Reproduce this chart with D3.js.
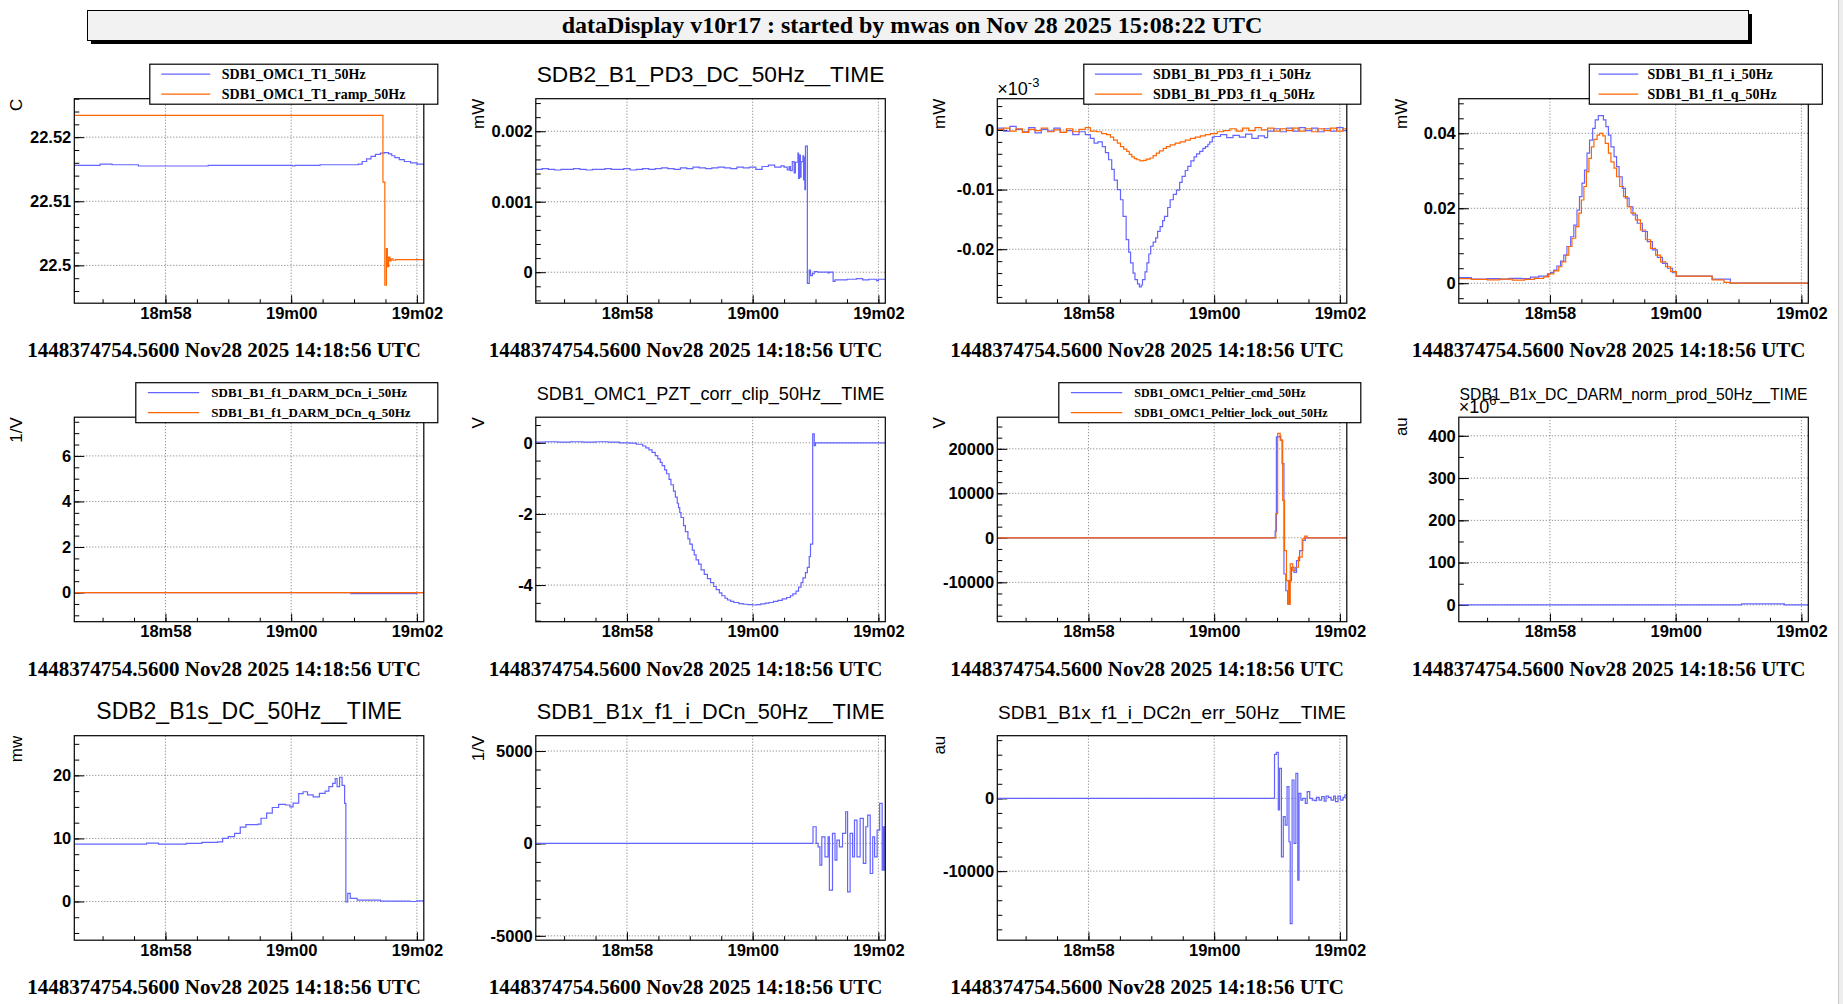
<!DOCTYPE html>
<html>
<head>
<meta charset="utf-8">
<script src="https://cdn.jsdelivr.net/npm/d3@7"></script>
<style>
  body { margin: 0; background: #fff; }
  svg { display: block; }
</style>
</head>
<body>
<svg id="canvas"></svg>
<script>
// ---- shared time axis (seconds after 14:18:00 display time) ----
const xDomain = [56.55, 62.11];
const xTickValues = [58, 60, 62];
const xTickLabels = ["18m58", "19m00", "19m02"];

const headerText = "dataDisplay v10r17 : started by mwas on Nov 28 2025 15:08:22 UTC";
const footerText = "1448374754.5600 Nov28 2025 14:18:56 UTC";

// ---- per panel text ----
const panelTitles = [
  "", "SDB2_B1_PD3_DC_50Hz__TIME", "", "",
  "", "SDB1_OMC1_PZT_corr_clip_50Hz__TIME", "", "SDB1_B1x_DC_DARM_norm_prod_50Hz__TIME",
  "SDB2_B1s_DC_50Hz__TIME", "SDB1_B1x_f1_i_DCn_50Hz__TIME", "SDB1_B1x_f1_i_DC2n_err_50Hz__TIME"
];
const panelUnits = ["C", "mW", "mW", "mW", "1/V", "V", "V", "au", "mw", "1/V", "au"];
const panelLegends = [
  ["SDB1_OMC1_T1_50Hz", "SDB1_OMC1_T1_ramp_50Hz"], null,
  ["SDB1_B1_PD3_f1_i_50Hz", "SDB1_B1_PD3_f1_q_50Hz"],
  ["SDB1_B1_f1_i_50Hz", "SDB1_B1_f1_q_50Hz"],
  ["SDB1_B1_f1_DARM_DCn_i_50Hz", "SDB1_B1_f1_DARM_DCn_q_50Hz"], null,
  ["SDB1_OMC1_Peltier_cmd_50Hz", "SDB1_OMC1_Peltier_lock_out_50Hz"], null,
  null, null, null
];
const yExponents = [null, null, "-3", null, null, null, null, "6", null, null, null];

// ---- y axes ----
const yDomains = [
  [22.4941, 22.526], [-0.00044, 0.002462], [-0.02905, 0.00524], [-0.00533, 0.04923],
  [-1.28, 7.70], [-5.03, 0.72], [-18850, 27100], [-39.8, 444],
  [-6.14, 26.29], [-5235, 5830], [-19490, 8610]
];
const yTicks = [
  [22.5, 22.51, 22.52], [0, 0.001, 0.002], [-0.02, -0.01, 0], [0, 0.02, 0.04],
  [0, 2, 4, 6], [-4, -2, 0], [-10000, 0, 10000, 20000], [0, 100, 200, 300, 400],
  [0, 10, 20], [-5000, 0, 5000], [-10000, 0]
];
const yMinorSteps = [0.002, 0.0002, 0.002, 0.004, 0.5, 0.5, 2500, 50, 2.5, 1000, 2000];

// ---- series: [seconds, value] ----
const omcT1 = [[56.55,22.5156],[56.96,22.5158],[57.15,22.5157],[57.57,22.5155],[58.68,22.5156],[60.02,22.5155],[60.06,22.5156],[60.46,22.5157],[61.07,22.5158],[61.13,22.5162],[61.2,22.5166],[61.27,22.5170],[61.34,22.5173],[61.42,22.5175],[61.48,22.5176],[61.55,22.5174],[61.6,22.5171],[61.65,22.5168],[61.72,22.5165],[61.8,22.5162],[61.9,22.5160],[62.0,22.5158],[62.11,22.5157]];
const omcT1Ramp = [[56.55,22.5234],[61.46,22.5130],[61.49,22.4969],[61.515,22.5026],[61.53,22.4998],[61.55,22.5013],[61.57,22.5007],[61.59,22.5010],[61.62,22.5008],[61.66,22.5009],[62.11,22.5009]];

const pd3Dc = [[56.55,0.00146],[56.65,0.00147],[56.75,0.00146],[56.85,0.00145],[56.95,0.00146],[57.05,0.00146],[57.15,0.00147],[57.25,0.00146],[57.35,0.00145],[57.45,0.00146],[57.55,0.00146],[57.65,0.00147],[57.75,0.00146],[57.85,0.00146],[57.95,0.00147],[58.05,0.00145],[58.15,0.00146],[58.25,0.00147],[58.35,0.00146],[58.45,0.00147],[58.55,0.00148],[58.65,0.00147],[58.75,0.00146],[58.85,0.00148],[58.95,0.00147],[59.05,0.00149],[59.15,0.00148],[59.25,0.00147],[59.35,0.00148],[59.45,0.00149],[59.55,0.00148],[59.65,0.00147],[59.75,0.00149],[59.85,0.00148],[59.95,0.00149],[60.05,0.00146],[60.15,0.00150],[60.25,0.00152],[60.35,0.00149],[60.45,0.00151],[60.5,0.00149],[60.55,0.00145],[60.58,0.00150],[60.6,0.00144],[60.63,0.00157],[60.66,0.00141],[60.68,0.00156],[60.72,0.00169],[60.73,0.00133],[60.745,0.00166],[60.76,0.00135],[60.77,0.00157],[60.8,0.00165],[60.81,0.00131],[60.82,0.00163],[60.83,0.00117],[60.84,0.00179],[60.87,-0.00016],[60.9,0.00003],[60.92,-0.00005],[60.95,-0.00002],[60.98,0.00001],[61.03,0.0],[61.2,-0.00001],[61.22,0.0],[61.28,-0.00013],[61.31,-0.00011],[61.5,-0.00010],[61.65,-0.00009],[61.75,-0.00011],[61.85,-0.00010],[61.97,-0.00012],[62.0,-0.00010],[62.11,-0.00010]];

const pd3F1I = [[56.55,0.0003],[56.65,-0.0002],[56.75,0.0006],[56.85,0.0001],[56.95,-0.0003],[57.05,0.0004],[57.15,-0.0005],[57.25,0.0001],[57.35,-0.0002],[57.45,0.0003],[57.55,-0.0004],[57.65,-0.0001],[57.75,-0.0008],[57.85,-0.0003],[57.95,-0.0008],[58.03,-0.0014],[58.09,-0.0022],[58.15,-0.0020],[58.22,-0.0028],[58.27,-0.0038],[58.32,-0.005],[58.37,-0.0066],[58.41,-0.0084],[58.46,-0.0100],[58.51,-0.0117],[58.55,-0.0145],[58.6,-0.0184],[58.64,-0.0205],[58.67,-0.0223],[58.71,-0.0240],[58.74,-0.0251],[58.78,-0.0258],[58.81,-0.0263],[58.84,-0.0260],[58.86,-0.0251],[58.9,-0.0238],[58.93,-0.0223],[58.96,-0.0208],[58.99,-0.0195],[59.03,-0.0188],[59.07,-0.0181],[59.1,-0.0170],[59.14,-0.0162],[59.18,-0.0152],[59.21,-0.0145],[59.26,-0.0130],[59.3,-0.0117],[59.35,-0.0108],[59.4,-0.0101],[59.45,-0.0088],[59.49,-0.0078],[59.54,-0.0068],[59.58,-0.0061],[59.63,-0.0052],[59.68,-0.0045],[59.72,-0.0040],[59.77,-0.0036],[59.82,-0.0031],[59.86,-0.0028],[59.9,-0.0024],[59.93,-0.0020],[59.97,-0.0012],[60.0,-0.0011],[60.1,-0.0008],[60.2,-0.0013],[60.3,-0.0009],[60.4,-0.0012],[60.5,-0.0007],[60.6,-0.0014],[60.7,-0.0010],[60.8,-0.0013],[60.85,-0.0002],[60.95,0.0002],[61.05,-0.0003],[61.15,0.0003],[61.25,-0.0002],[61.35,0.0004],[61.45,-0.0001],[61.55,0.0003],[61.65,-0.0003],[61.75,0.0002],[61.85,-0.0002],[61.95,0.0004],[62.05,-0.0001],[62.11,0.0001]];
const pd3F1Q = [[56.55,0.0001],[56.65,0.0003],[56.75,-0.0002],[56.85,0.0002],[56.95,-0.0004],[57.05,0.0001],[57.15,-0.0001],[57.25,0.0003],[57.35,-0.0003],[57.45,0.0000],[57.55,-0.0004],[57.65,0.0002],[57.75,-0.0003],[57.85,0.0001],[57.95,0.0004],[58.03,-0.0002],[58.13,-0.0003],[58.21,-0.0006],[58.29,-0.0008],[58.35,-0.0012],[58.4,-0.0017],[58.46,-0.0022],[58.51,-0.0028],[58.56,-0.0032],[58.61,-0.0036],[58.65,-0.0041],[58.69,-0.0045],[58.73,-0.0048],[58.77,-0.0050],[58.82,-0.0052],[58.87,-0.0051],[58.92,-0.0049],[58.98,-0.0047],[59.03,-0.0043],[59.08,-0.0039],[59.13,-0.0035],[59.19,-0.0031],[59.24,-0.0028],[59.3,-0.0025],[59.38,-0.0022],[59.46,-0.0020],[59.54,-0.0017],[59.62,-0.0014],[59.7,-0.0012],[59.78,-0.0010],[59.86,-0.0008],[59.94,-0.0006],[60.05,-0.0003],[60.15,-0.0001],[60.25,0.0002],[60.35,-0.0002],[60.45,0.0003],[60.55,-0.0001],[60.65,0.0004],[60.75,0.0000],[60.85,0.0003],[60.95,-0.0002],[61.05,0.0002],[61.15,-0.0001],[61.25,0.0003],[61.35,-0.0002],[61.45,0.0002],[61.55,-0.0003],[61.65,0.0002],[61.75,-0.0001],[61.85,0.0003],[61.95,-0.0002],[62.05,0.0002],[62.11,0.0000]];

const b1F1I = [[56.55,0.0015],[56.75,0.0011],[57.0,0.0012],[57.2,0.0011],[57.35,0.0013],[57.55,0.0012],[57.69,0.0016],[57.82,0.0019],[57.96,0.0025],[58.01,0.0029],[58.06,0.0035],[58.11,0.0046],[58.17,0.0059],[58.22,0.0075],[58.27,0.0098],[58.33,0.0124],[58.38,0.0155],[58.43,0.0195],[58.47,0.0231],[58.51,0.0267],[58.55,0.0302],[58.59,0.0347],[58.63,0.0382],[58.68,0.0413],[58.72,0.0436],[58.77,0.0447],[58.82,0.0447],[58.85,0.0436],[58.89,0.0418],[58.93,0.0395],[58.97,0.0364],[59.02,0.0338],[59.06,0.0311],[59.1,0.0284],[59.15,0.0253],[59.2,0.0227],[59.26,0.0204],[59.32,0.0182],[59.39,0.0160],[59.47,0.0138],[59.55,0.0111],[59.63,0.0089],[59.71,0.0069],[59.79,0.0053],[59.87,0.0040],[59.95,0.0028],[60.01,0.0019],[60.58,0.0011],[60.87,0.0],[62.11,0.0]];
const b1F1Q = [[56.55,0.0012],[56.75,0.0010],[57.0,0.0009],[57.2,0.0011],[57.4,0.0008],[57.6,0.0010],[57.75,0.0013],[57.9,0.0017],[57.98,0.0025],[58.06,0.0033],[58.14,0.0044],[58.19,0.0057],[58.25,0.0075],[58.3,0.0098],[58.35,0.0120],[58.41,0.0151],[58.46,0.0187],[58.5,0.0222],[58.54,0.0258],[58.58,0.0298],[58.62,0.0333],[58.66,0.0364],[58.7,0.0384],[58.75,0.0395],[58.79,0.0400],[58.84,0.0393],[58.88,0.0373],[58.93,0.0347],[58.97,0.0324],[59.02,0.0307],[59.06,0.0284],[59.11,0.0258],[59.17,0.0231],[59.23,0.0204],[59.29,0.0187],[59.36,0.0169],[59.44,0.0142],[59.52,0.0116],[59.6,0.0093],[59.68,0.0075],[59.76,0.0057],[59.84,0.0044],[59.92,0.0031],[60.01,0.0019],[60.58,0.0009],[60.77,0.0002],[60.87,0.0],[62.11,0.0]];

const darmDcnI = [[56.55,0],[60.95,-0.05],[62.0,0],[62.11,0]];
const darmDcnQ = [[56.55,0],[62.11,0]];

const pztCorr = [[56.55,0.02],[56.7,0.03],[56.9,0.02],[57.1,0.03],[57.3,0.02],[57.5,0.03],[57.7,0.02],[57.88,0.0],[58.05,-0.01],[58.15,-0.04],[58.25,-0.09],[58.3,-0.14],[58.35,-0.2],[58.4,-0.27],[58.45,-0.36],[58.49,-0.45],[58.53,-0.55],[58.56,-0.64],[58.6,-0.76],[58.63,-0.87],[58.67,-1.03],[58.7,-1.18],[58.74,-1.36],[58.77,-1.53],[58.8,-1.7],[58.82,-1.82],[58.84,-1.96],[58.86,-2.1],[58.9,-2.33],[58.93,-2.5],[58.97,-2.7],[59.0,-2.85],[59.04,-3.02],[59.07,-3.15],[59.1,-3.29],[59.14,-3.41],[59.18,-3.57],[59.23,-3.7],[59.28,-3.82],[59.33,-3.93],[59.38,-4.04],[59.42,-4.13],[59.47,-4.22],[59.51,-4.3],[59.56,-4.37],[59.6,-4.42],[59.65,-4.46],[59.7,-4.49],[59.78,-4.52],[59.85,-4.54],[59.92,-4.55],[60.0,-4.56],[60.06,-4.55],[60.13,-4.53],[60.2,-4.51],[60.26,-4.49],[60.33,-4.46],[60.4,-4.43],[60.47,-4.39],[60.54,-4.35],[60.6,-4.3],[60.64,-4.25],[60.69,-4.17],[60.73,-4.06],[60.77,-3.93],[60.8,-3.8],[60.84,-3.65],[60.87,-3.5],[60.9,-3.2],[60.92,-2.85],[60.955,0.25],[60.98,-0.08],[61.0,0.0],[62.11,0.0]];

const peltierCmd = [[56.55,0],[60.97,1500],[60.99,22700],[61.04,22860],[61.06,21950],[61.08,16680],[61.11,-8130],[61.14,-11890],[61.17,-14900],[61.2,-9630],[61.23,-6620],[61.27,-7750],[61.31,-5120],[61.36,-2860],[61.41,-600],[61.45,0],[62.11,0]];
const peltierLock = [[56.55,0],[60.98,5420],[61.01,23480],[61.05,21950],[61.09,8430],[61.12,-2860],[61.15,-9630],[61.18,-14900],[61.21,-5870],[61.25,-7370],[61.29,-6620],[61.34,-4360],[61.4,-230],[61.44,380],[61.48,0],[62.11,0]];

const darmNormProd = [[56.55,0],[61.05,2.4],[61.73,0],[62.11,0]];

const b1sDc = [[56.55,9.1],[57.7,9.25],[57.89,9.1],[58.33,9.2],[58.58,9.37],[58.83,9.46],[58.91,10.0],[59.0,10.3],[59.1,10.8],[59.19,11.8],[59.28,12.2],[59.47,12.27],[59.52,13.2],[59.61,14.0],[59.7,14.9],[59.8,15.4],[59.91,15.3],[59.98,15.0],[60.03,15.6],[60.12,17.1],[60.19,17.4],[60.26,16.9],[60.35,16.6],[60.45,17.14],[60.54,17.5],[60.6,18.2],[60.66,18.73],[60.7,19.5],[60.73,18.2],[60.77,19.7],[60.81,18.4],[60.85,15.56],[60.87,-0.05],[60.9,1.27],[60.94,0.48],[61.05,0.21],[61.42,0.05],[61.89,0.0],[62.0,0.1],[62.11,0.1]];

const b1xF1IDcn = [[56.55,0],[60.96,903],[61.01,0],[61.04,-180],[61.07,-1173],[61.1,361],[61.15,-722],[61.2,361],[61.22,-2527],[61.27,542],[61.31,-903],[61.34,181],[61.38,-180],[61.43,542],[61.48,1715],[61.51,-2617],[61.55,542],[61.59,-722],[61.62,1264],[61.66,-722],[61.71,1354],[61.76,-1083],[61.8,903],[61.83,1534],[61.87,-1625],[61.91,361],[61.94,-722],[61.98,722],[62.02,2166],[62.06,-1444],[62.08,903],[62.1,-1444],[62.11,-1444]];

const b1xF1IDc2nErr = [[56.55,0],[60.96,6050],[60.99,6330],[61.02,-1600],[61.04,4130],[61.07,-8030],[61.1,-2520],[61.13,-3670],[61.16,1600],[61.19,-5960],[61.21,-17200],[61.24,2520],[61.27,-6190],[61.3,3440],[61.33,-11240],[61.35,690],[61.38,-230],[61.41,0],[61.45,-690],[61.48,920],[61.52,0],[61.56,-230],[61.6,-320],[61.63,140],[61.67,-230],[61.71,230],[61.75,-370],[61.78,320],[61.82,140],[61.86,-230],[61.9,320],[61.93,-460],[61.97,320],[62.01,-230],[62.05,140],[62.08,460],[62.11,460]];

const panelSeries = [
  [omcT1, omcT1Ramp], [pd3Dc], [pd3F1I, pd3F1Q], [b1F1I, b1F1Q],
  [darmDcnI, darmDcnQ], [pztCorr], [peltierCmd, peltierLock], [darmNormProd],
  [b1sDc], [b1xF1IDcn], [b1xF1IDc2nErr]
];

// ---- layout ----
const W = 1843, H = 1004;
const PW = 349.5, PH = 204.5;
const colX = 74.3, colStep = 461.5, rowY = 98.7, rowStep = 318.5;
const seriesColors = ["#6464ff", "#ff6600"];
const sansFont = "'Liberation Sans', Arial, Helvetica, sans-serif";
const serifFont = "'Liberation Serif', 'Times New Roman', serif";
// legend box width and text size, keyed by panel
const legendStyle = { 0: [288, 14], 2: [277, 14], 3: [233, 14], 4: [302, 13], 6: [302, 12] };

const svg = d3.select("#canvas").attr("width", W).attr("height", H);
svg.append("rect").attr("width", W).attr("height", H).attr("fill", "#fff");

// right edge strip
svg.append("rect").attr("x", 1838).attr("y", 0).attr("width", 5).attr("height", H).attr("fill", "#eeeeee");
svg.append("line").attr("x1", 1838.5).attr("x2", 1838.5).attr("y1", 0).attr("y2", H)
  .attr("stroke", "#c8c8c8");

// header box with shadow
svg.append("rect").attr("x", 91).attr("y", 14).attr("width", 1661).attr("height", 30).attr("fill", "#000");
svg.append("rect").attr("x", 87.5).attr("y", 10.5).attr("width", 1661).attr("height", 30)
  .attr("fill", "#f2f2f2").attr("stroke", "#000").attr("stroke-width", 1);
svg.append("text")
  .attr("x", 912).attr("y", 32.5)
  .attr("text-anchor", "middle")
  .attr("font-family", serifFont).attr("font-weight", "bold").attr("font-size", 24)
  .attr("fill", "#000")
  .text(headerText);

const fmt = d => String(+d.toFixed(8));

panelSeries.forEach((series, i) => {
  const col = i % 4, row = Math.floor(i / 4);
  const left = colX + col * colStep, top = rowY + row * rowStep;
  const g = svg.append("g").attr("transform", `translate(${left},${top})`);

  const x = d3.scaleLinear().domain(xDomain).range([0, PW]);
  const y = d3.scaleLinear().domain(yDomains[i]).range([PH, 0]);

  // clip
  svg.append("clipPath").attr("id", "clip" + i)
    .append("rect").attr("width", PW).attr("height", PH);

  // grid
  g.selectAll(".gx").data(xTickValues).join("line")
    .attr("x1", d => x(d)).attr("x2", d => x(d))
    .attr("y1", 0).attr("y2", PH)
    .attr("stroke", "#777").attr("stroke-dasharray", "1,2");
  g.selectAll(".gy").data(yTicks[i]).join("line")
    .attr("x1", 0).attr("x2", PW)
    .attr("y1", d => y(d)).attr("y2", d => y(d))
    .attr("stroke", "#777").attr("stroke-dasharray", "1,2");

  // minor ticks
  const [y0, y1] = yDomains[i];
  const ms = yMinorSteps[i];
  const yMinor = d3.range(Math.ceil(y0 / ms), Math.floor(y1 / ms) + 1).map(k => k * ms);
  const xMinor = d3.range(Math.ceil(xDomain[0] / 0.5), Math.floor(xDomain[1] / 0.5) + 1).map(k => k * 0.5);

  const yMinorAxis = g.append("g").call(d3.axisLeft(y).tickValues(yMinor).tickSize(-5).tickSizeOuter(0).tickFormat(""));
  yMinorAxis.select(".domain").remove();
  const xMinorAxis = g.append("g").attr("transform", `translate(0,${PH})`)
    .call(d3.axisBottom(x).tickValues(xMinor).tickSize(-4).tickSizeOuter(0).tickFormat(""));
  xMinorAxis.select(".domain").remove();

  // major axes
  const yAxis = g.append("g")
    .call(d3.axisLeft(y).tickValues(yTicks[i]).tickSize(-10).tickSizeOuter(0).tickPadding(3).tickFormat(fmt));
  yAxis.select(".domain").remove();
  yAxis.attr("font-family", sansFont).attr("font-size", 16.5).attr("font-weight", "bold");
  yAxis.selectAll("text").attr("fill", "#000");
  yAxis.selectAll("line").attr("stroke", "#000");

  const xAxis = g.append("g").attr("transform", `translate(0,${PH})`)
    .call(d3.axisBottom(x).tickValues(xTickValues).tickSize(-8).tickSizeOuter(0).tickPadding(4)
      .tickFormat((d, k) => xTickLabels[k]));
  xAxis.select(".domain").remove();
  xAxis.attr("font-family", sansFont).attr("font-size", 16.5).attr("font-weight", "bold");
  xAxis.selectAll("text").attr("fill", "#000");

  // series
  const line = d3.line().x(d => x(d[0])).y(d => y(d[1])).curve(d3.curveStepAfter);
  const plot = g.append("g").attr("clip-path", `url(#clip${i})`);
  series.forEach((s, k) => {
    plot.append("path")
      .datum(s)
      .attr("d", line)
      .attr("fill", "none")
      .attr("stroke", seriesColors[k])
      .attr("stroke-width", 1.2);
  });

  // frame
  g.append("rect").attr("width", PW).attr("height", PH)
    .attr("fill", "none").attr("stroke", "#000").attr("stroke-width", 1.2);

  // unit label
  g.append("text")
    .attr("transform", `translate(-52,0) rotate(-90)`)
    .attr("text-anchor", "end")
    .attr("font-family", sansFont).attr("font-size", 17)
    .attr("fill", "#000")
    .text(panelUnits[i]);

  // exponent
  if (yExponents[i]) {
    const ex = g.append("text").attr("x", 0).attr("y", -4)
      .attr("font-family", sansFont).attr("font-size", 18).attr("fill", "#000");
    ex.append("tspan").text("\u00d710");
    ex.append("tspan").attr("dy", -8).attr("font-size", 13).text(yExponents[i]);
  }

  // title
  if (panelTitles[i]) {
    const t = g.append("text")
      .attr("x", PW / 2).attr("y", -17)
      .attr("text-anchor", "middle")
      .attr("font-family", sansFont).attr("font-size", 23)
      .attr("fill", "#000")
      .text(panelTitles[i]);
    const len = t.node().getComputedTextLength();
    if (len > 348) t.attr("font-size", 23 * 348 / len);
  }

  // legend
  if (panelLegends[i]) {
    const [lw, fs] = legendStyle[i];
    const lg = g.append("g").attr("transform", `translate(${PW + 14 - lw},-34.5)`);
    lg.append("rect").attr("width", lw).attr("height", 40)
      .attr("fill", "#fff").attr("stroke", "#000").attr("stroke-width", 1.2);
    panelLegends[i].forEach((name, k) => {
      const ly = 10 + k * 20;
      lg.append("line")
        .attr("x1", lw * 0.04).attr("x2", lw * 0.21)
        .attr("y1", ly).attr("y2", ly)
        .attr("stroke", seriesColors[k]).attr("stroke-width", 1.2);
      lg.append("text")
        .attr("x", lw * 0.25).attr("y", ly).attr("dy", "0.35em")
        .attr("font-family", serifFont).attr("font-weight", "bold").attr("font-size", fs)
        .attr("fill", "#000")
        .text(name);
    });
  }

  // footer
  g.append("text")
    .attr("x", -47).attr("y", PH + 54)
    .attr("font-family", serifFont).attr("font-weight", "bold").attr("font-size", 21)
    .attr("fill", "#000")
    .text(footerText);
});
</script>
</body>
</html>
